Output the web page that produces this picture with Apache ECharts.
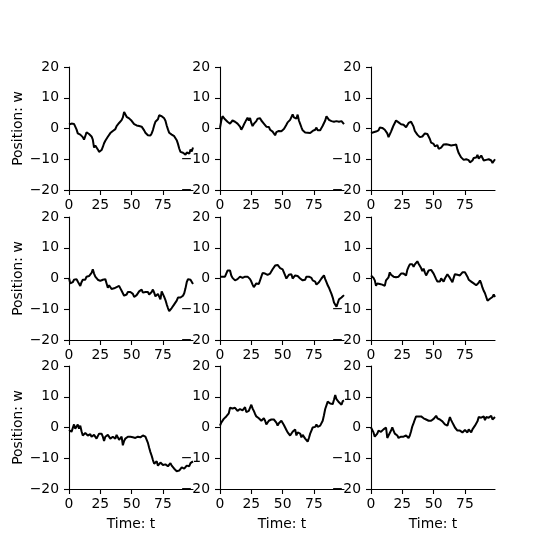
<!DOCTYPE html>
<html>
<head>
<meta charset="utf-8">
<script src="https://cdn.jsdelivr.net/npm/echarts@6/dist/echarts.min.js"></script>
<style>
  body { margin: 0; background: #fff; }
  #chart { width: 551px; height: 551px; }
</style>
</head>
<body>
<div id="chart"></div>
<script>
// time steps 0..99
const steps = Array.from({ length: 100 }, (_, i) => i)
const xTicks = [0, 25, 50, 75]
const yTicks = [-20, -10, 0, 10, 20]

// random walks, row by row
const walk1 = [1.3, 1.0, 1.6, 1.6, 1.5, 1.1, -0.3, -1.6, -1.9, -2.0, -2.5, -2.8, -3.6, -2.5, -1.2, -1.2, -1.8, -2.2, -2.6, -3.6,
  -6.2, -5.5, -5.8, -6.8, -7.6, -7.9, -7.0, -6.0, -4.8, -4.0, -3.6, -2.7, -2.2, -1.5, -0.9, -0.8, -1.2, -0.2, 0.8, 1.0,
  1.8, 2.0, 2.7, 3.6, 5.4, 5.8, 3.8, 4.2, 3.3, 3.4, 2.5, 2.2, 1.4, 0.8, 1.0, 0.5, 0.8, 0.3, 0.6, 0.0,
  -0.6, -1.4, -1.8, -2.2, -2.0, -2.3, -1.6, -0.5, 1.0, 2.2, 2.6, 3.0, 4.3, 4.6, 4.0, 4.2, 3.3, 2.5, 1.0, -0.3,
  -1.4, -1.6, -2.0, -2.2, -2.5, -3.0, -3.8, -5.0, -6.5, -7.6, -7.0, -7.9, -8.0, -8.5, -7.8, -7.6, -8.2, -6.8, -7.5, -6.2]
const walk2 = [0.2, 2.5, 4.0, 3.8, 3.0, 2.6, 2.2, 2.0, 1.6, 2.0, 2.6, 2.4, 2.2, 2.5, 1.6, 1.8, 0.6, -0.4, 0.3, 1.2,
  2.0, 2.8, 3.5, 2.6, 3.4, 1.8, 0.8, 1.5, 1.2, 2.4, 3.2, 3.6, 3.3, 2.6, 2.2, 1.6, 1.0, 0.6, 0.2, 0.5,
  -0.4, -0.2, -1.0, -0.6, -2.2, -1.2, -1.6, -0.8, -1.3, -0.9, -0.6, -0.2, 0.5, 1.2, 2.0, 2.4, 2.8, 3.0, 4.6, 3.6,
  4.2, 3.2, 4.5, 2.6, 1.5, 0.4, -0.6, -0.8, -1.3, -1.0, -1.4, -1.0, -1.5, -1.2, -0.8, -1.1, -0.4, 0.3, -0.6, -1.0,
  -0.6, 0.2, 0.9, 1.2, 2.6, 4.0, 3.6, 2.8, 2.2, 2.4, 2.0, 2.2, 2.6, 2.4, 3.0, 2.2, 2.0, 2.4, 1.8, 1.4]
const walk3 = [-1.5, -1.8, -1.2, -1.4, -1.0, -1.2, -0.6, 0.3, 0.8, 0.2, 0.6, -0.4, -0.8, -1.6, -2.8, -2.2, -1.0, 0.0, 1.0, 1.2,
  2.6, 2.4, 2.0, 2.2, 1.4, 1.6, 1.2, 0.6, 0.4, 0.8, 1.8, 2.4, 2.2, 1.6, 0.6, -0.8, -1.4, -2.0, -2.2, -2.8,
  -3.2, -2.6, -2.2, -1.6, -1.4, -1.8, -2.2, -3.4, -4.6, -5.2, -5.0, -5.8, -6.2, -5.4, -6.6, -6.8, -6.2, -6.6, -5.2, -4.9,
  -5.1, -5.4, -5.3, -5.6, -5.5, -5.8, -5.4, -5.9, -5.2, -6.8, -8.0, -8.6, -9.4, -9.8, -10.2, -9.8, -10.0, -10.4, -10.3, -11.0,
  -11.2, -10.4, -9.6, -9.0, -9.4, -8.6, -9.8, -9.2, -8.8, -9.6, -10.4, -11.0, -10.2, -10.4, -10.0, -10.6, -10.4, -11.2, -10.8, -10.0]
const walk4 = [0.2, -1.6, -2.0, -1.2, -0.4, -0.6, -0.2, -1.0, -1.6, -2.4, -1.2, -0.4, -0.8, -0.4, 0.6, 1.0, 0.8, 1.2, 1.8, 3.0,
  1.6, 0.6, 0.2, -0.4, -1.0, -0.8, -1.0, -0.4, 0.2, -0.2, -1.6, -3.0, -2.2, -2.6, -3.4, -4.0, -3.2, -3.4, -2.8, -2.6,
  -2.4, -3.2, -4.0, -4.6, -5.6, -6.0, -5.2, -4.4, -4.0, -4.4, -4.0, -5.0, -6.0, -6.4, -5.4, -5.0, -4.2, -3.8, -3.6, -4.6,
  -5.0, -4.4, -4.8, -4.4, -5.2, -4.8, -4.4, -3.6, -4.6, -5.8, -6.0, -5.0, -5.2, -6.8, -4.2, -4.6, -6.0, -7.0, -8.4, -9.6,
  -10.6, -10.0, -9.6, -9.0, -8.4, -8.0, -7.2, -6.2, -6.6, -6.2, -6.6, -5.6, -4.8, -3.2, -1.2, -0.2, 0.4, -0.4, -0.8, -1.8]
const walk5 = [0.6, 0.2, 0.6, 0.4, 0.6, 1.6, 2.6, 2.2, 2.6, 1.0, 0.2, -0.4, -0.6, -0.4, -0.2, 0.2, 0.6, 1.0, 0.2, 0.4,
  0.6, 0.4, 0.6, 0.4, -0.2, -1.0, -2.0, -2.8, -2.2, -1.6, -1.4, -1.8, -1.2, 0.6, 1.8, 1.2, 1.6, 1.0, 1.2, 1.0,
  1.6, 2.2, 3.0, 3.4, 4.2, 4.8, 4.4, 3.8, 3.4, 3.6, 3.0, 2.0, 1.0, 0.0, 0.4, 1.2, 0.6, 1.4, 0.0, 0.4,
  1.0, 0.6, 0.8, 0.4, 0.0, -0.4, -0.6, -0.2, -0.4, 0.6, 1.0, 0.6, 1.0, 0.2, -0.6, 0.0, -1.0, -2.0, -1.6, -1.2,
  -0.8, 0.0, 0.6, 1.0, -0.2, -1.2, -2.2, -3.0, -4.0, -5.0, -6.2, -7.8, -8.4, -9.2, -8.6, -6.8, -6.4, -6.2, -5.8, -5.4]
const walk6 = [1.0, 1.4, 0.2, -0.6, -2.4, -1.6, -1.4, -1.8, -1.6, -2.0, -2.2, -2.4, -0.6, -0.2, 0.4, 2.0, 1.2, 1.0, 0.6, 1.0,
  0.4, 1.0, 0.6, 0.8, 1.6, 2.0, 1.6, 1.2, 1.0, 2.8, 3.8, 4.6, 4.2, 4.6, 3.8, 4.6, 5.2, 5.6, 4.8, 4.4,
  3.4, 2.4, 3.2, 2.0, 1.0, 1.8, 2.6, 2.4, 2.8, 2.4, 1.6, 1.0, -0.2, -1.0, -0.6, -1.0, 0.0, -0.4, -1.0, 0.0,
  0.4, 1.4, 1.2, 0.2, -0.4, -1.2, 0.2, 1.4, 1.6, 1.2, 1.6, 1.0, 1.2, 2.0, 1.6, 2.0, 1.4, 0.6, -0.4, -0.6,
  -1.0, -1.2, -1.6, -2.0, -2.2, -2.6, -1.4, -0.6, -1.6, -3.0, -4.0, -4.8, -6.0, -7.2, -7.0, -6.6, -6.4, -6.0, -5.2, -6.0]
const walk7 = [-0.8, -1.0, -1.4, -0.2, 1.0, -0.4, 0.2, 1.0, -0.4, 0.6, -1.2, -2.6, -2.0, -1.8, -2.4, -2.6, -2.0, -2.2, -3.0, -2.6,
  -2.4, -2.8, -3.6, -2.8, -2.0, -2.2, -2.0, -3.0, -4.4, -3.0, -2.6, -2.4, -3.0, -3.6, -3.0, -3.0, -3.4, -3.6, -2.4, -3.2,
  -4.0, -3.4, -3.0, -5.8, -4.4, -3.6, -3.2, -3.0, -2.4, -3.0, -3.6, -3.2, -3.0, -3.4, -3.6, -3.0, -2.6, -3.2, -3.0, -2.6,
  -2.8, -3.0, -3.6, -5.0, -6.6, -8.0, -9.2, -10.6, -11.8, -11.2, -11.0, -12.4, -12.0, -11.4, -12.0, -12.2, -11.6, -12.0, -11.8, -12.6,
  -12.0, -11.6, -12.4, -13.0, -13.4, -14.0, -14.2, -14.6, -14.0, -13.4, -13.0, -12.4, -13.4, -13.0, -12.4, -13.0, -12.6, -11.6, -11.4, -11.0]
const walk8 = [0.6, 1.6, 2.2, 2.8, 3.2, 3.6, 4.2, 4.6, 6.4, 6.0, 6.2, 5.8, 6.4, 6.0, 5.4, 5.8, 6.0, 5.4, 5.6, 6.2,
  6.6, 5.0, 5.6, 5.4, 5.8, 7.4, 6.2, 5.4, 4.4, 3.6, 3.4, 3.0, 3.4, 2.2, 2.6, 3.0, 2.2, 1.0, 1.6, 2.2,
  2.8, 2.6, 3.0, 2.6, 2.0, 1.6, 0.6, 1.4, 2.0, 2.2, 1.8, 0.8, 0.0, -0.8, -1.6, -2.0, -2.6, -2.0, -1.4, -1.0,
  -0.6, -2.6, -1.6, -1.0, -2.0, -3.2, -2.4, -3.0, -3.6, -4.0, -4.6, -3.4, -2.0, -1.0, 0.0, -0.6, 0.2, 1.0, 0.2, 0.4,
  0.6, 1.2, 2.2, 4.0, 6.0, 7.2, 8.4, 8.0, 7.8, 7.4, 7.6, 9.0, 10.6, 9.2, 8.6, 8.2, 8.0, 7.4, 8.6, 8.8]
const walk9 = [0.0, -0.6, -1.6, -3.0, -2.6, -2.0, -1.0, -1.6, -1.4, -1.0, -0.6, -0.4, 0.0, -3.4, -2.6, -2.0, -1.0, 0.0, -1.0, -2.0,
  -2.2, -2.6, -3.4, -2.8, -3.0, -2.6, -3.0, -2.8, -2.6, -3.2, -3.4, -2.6, -1.2, 0.4, 1.4, 2.6, 3.6, 3.4, 3.6, 3.2,
  3.6, 3.4, 3.0, 3.6, 2.6, 2.0, 2.2, 2.4, 2.2, 2.6, 2.8, 3.0, 3.8, 3.0, 3.4, 2.6, 2.4, 2.0, 1.6, 1.0,
  1.2, 0.6, 2.0, 3.4, 2.4, 1.6, 0.8, 0.0, -0.6, -1.0, -1.2, -1.0, -1.2, -1.6, -1.0, -0.8, -1.4, -1.6, -0.6, -0.8,
  -1.6, -0.6, 0.0, 0.6, 1.0, 2.0, 3.4, 2.8, 3.2, 2.6, 3.6, 2.4, 3.4, 4.0, 3.2, 3.6, 3.8, 2.6, 2.8, 3.4]

const walks = [walk1, walk2, walk3, walk4, walk5, walk6, walk7, walk8, walk9]

const colLeft = [69, 220, 371]
const rowTop = [67, 217, 366]
const font = 'DejaVu Sans'

const grid = []
const xAxis = []
const yAxis = []
const series = []

walks.forEach((w, i) => {
  const row = Math.floor(i / 3)
  const col = i % 3
  grid.push({ left: colLeft[col], top: rowTop[row], width: 124, height: 123 })
  xAxis.push({
    type: 'value',
    gridIndex: i,
    min: 0,
    max: 99,
    interval: 25,
    name: row === 2 ? 'Time: t' : '',
    nameLocation: 'middle',
    nameGap: 28,
    nameTextStyle: { color: '#000', fontFamily: font, fontSize: 13.9 },
    axisLine: { show: true, onZero: false, lineStyle: { color: '#000', width: 1.1 } },
    axisTick: { show: true, length: 5, customValues: xTicks, lineStyle: { color: '#000', width: 1.1 } },
    axisLabel: { customValues: xTicks, margin: 8, color: '#000', fontFamily: font, fontSize: 13.9 },
    splitLine: { show: false }
  })
  yAxis.push({
    type: 'value',
    gridIndex: i,
    min: -20,
    max: 20,
    interval: 10,
    name: col === 0 ? 'Position: w' : '',
    nameLocation: 'middle',
    nameGap: 44,
    nameTextStyle: { color: '#000', fontFamily: font, fontSize: 13.9 },
    axisLine: { show: true, lineStyle: { color: '#000', width: 1.1 } },
    axisTick: { show: true, length: 5, customValues: yTicks, lineStyle: { color: '#000', width: 1.1 } },
    axisLabel: {
      customValues: yTicks,
      margin: 10,
      color: '#000',
      fontFamily: font,
      fontSize: 13.9,
      formatter: v => String(v).replace('-', '\u2212')
    },
    splitLine: { show: false }
  })
  series.push({
    type: 'line',
    xAxisIndex: i,
    yAxisIndex: i,
    data: steps.map((t, k) => [t, w[k]]),
    showSymbol: false,
    lineStyle: { color: '#000', width: 2 },
    silent: true
  })
})

const chart = echarts.init(document.getElementById('chart'))
chart.setOption({
  backgroundColor: '#fff',
  animation: false,
  grid: grid,
  xAxis: xAxis,
  yAxis: yAxis,
  series: series
})
</script>
</body>
</html>
